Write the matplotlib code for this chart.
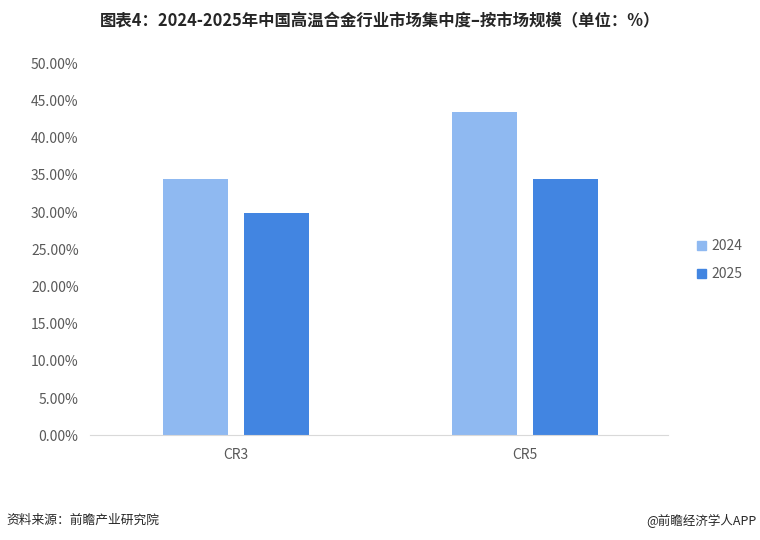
import matplotlib
matplotlib.use("Agg")
import matplotlib.pyplot as plt
from matplotlib.patches import Patch
from matplotlib.ticker import FuncFormatter
import numpy as np

plt.rcParams['font.family'] = ['Noto Sans CJK SC', 'DejaVu Sans']

categories = ["CR3", "CR5"]
series_names = ["2024", "2025"]
values_2024 = [34.5, 43.5]
values_2025 = [29.8, 34.4]
title = "图表4：2024-2025年中国高温合金行业市场集中度–按市场规模（单位：%）"
source = "资料来源：前瞻产业研究院"
brand = "@前瞻经济学人APP"

c2024 = "#8FB9F1"
c2025 = "#4285E1"

fig = plt.figure(figsize=(7.6, 5.4), dpi=100)
ax = fig.add_axes([0.118, 0.194, 0.761, 0.689])

x = np.arange(len(categories))
w = 0.225
off = 0.14
ax.bar(x - off, values_2024, width=w, color=c2024, zorder=2)
ax.bar(x + off, values_2025, width=w, color=c2025, zorder=2)

ax.set_xlim(-0.505, 1.495)
ax.set_ylim(0, 50)
ax.set_yticks(np.arange(0, 50.1, 5))
ax.yaxis.set_major_formatter(FuncFormatter(lambda v, p: f"{v:.2f}%"))
ax.set_xticks(x)
ax.set_xticklabels(categories)
for s in ["top", "right", "left"]:
    ax.spines[s].set_visible(False)
ax.spines["bottom"].set_color("#D9D9D9")
ax.tick_params(axis="both", length=0, colors="#595959", labelsize=10)
ax.tick_params(axis="y", pad=8)
ax.tick_params(axis="x", pad=9)

handles = [Patch(color=c2024, label="2024"), Patch(color=c2025, label="2025")]
leg = fig.legend(handles=handles, loc="center left", bbox_to_anchor=(0.9, 0.518),
                 frameon=False, fontsize=10, handlelength=0.7, handleheight=0.7,
                 handletextpad=0.4, labelspacing=1.0)
for t in leg.get_texts():
    t.set_color("#595959")

fig.text(0.5, 0.96, title, ha="center", va="center", fontsize=11.8, fontweight="bold", color="#262626")
fig.text(0.008, 0.036, source, ha="left", va="center", fontsize=9.2, color="#262626")
fig.text(0.995, 0.036, brand, ha="right", va="center", fontsize=9, color="#262626")

fig.savefig("out.png", dpi=100)
